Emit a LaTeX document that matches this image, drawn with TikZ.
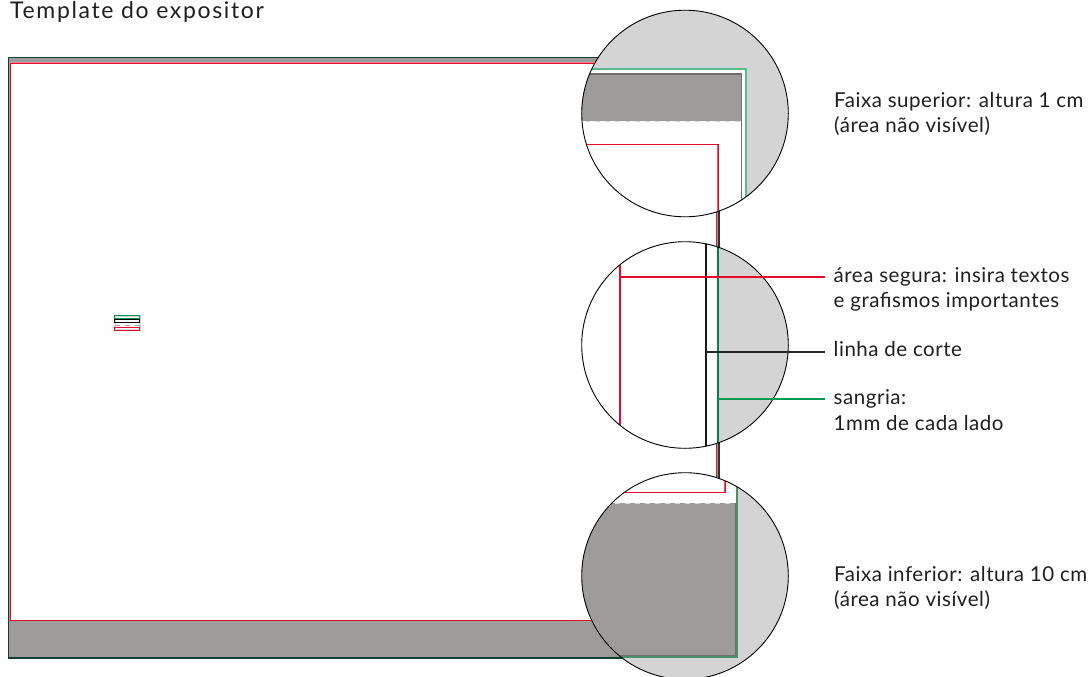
\documentclass[tikz,border=0pt]{standalone}
\usepackage{fontspec}
\setmainfont{Lato}[LetterSpace=2.6]
\definecolor{bandgray}{HTML}{9D9C9B}
\definecolor{lightgray2}{HTML}{D4D4D4}
\definecolor{mygreen}{HTML}{009A4E}
\definecolor{softgreen}{HTML}{5DB98A}
\definecolor{darkgreen}{HTML}{12402F}
\definecolor{myred}{HTML}{E30A2C}
\definecolor{softred}{HTML}{F0506A}
\definecolor{edgegray}{HTML}{6E6E6D}
\tikzset{
  x=1pt,y=-1pt,
  lab/.style={anchor=base west,inner sep=0pt,font=\fontsize{20.5}{25.5}\selectfont,text=black!88,align=left},
  lens/.style={draw=black,line width=0.9pt},
  dashedge/.style={draw=white!85!black,line width=1pt,dash pattern=on 5pt off 5pt}
}
\begin{document}
\begin{tikzpicture}
\useasboundingbox (0,0) rectangle (1092,677);
% title
\node[lab,font=\addfontfeature{LetterSpace=7.2}\fontsize{23}{28}\selectfont] (title) at (10,18.5) {Template do expositor};
% main frame
\fill[bandgray] (8.5,58) rectangle (718.5,657.5);
\fill[white] (9.5,63) rectangle (716.5,621);
\draw[softgreen,line width=0.8pt] (8,57) rectangle (719.5,658.5);
\draw[darkgreen,line width=1.1pt] (8.5,57.7) rectangle (719,658);
\draw[softred!70!white,line width=1.6pt] (10.5,63.2) rectangle (716.6,620.5);
\draw[myred,line width=0.7pt] (10.5,63.2) rectangle (716.6,620.5);
% small icon
\fill[lightgray2] (114.5,315) rectangle (140.5,330.5);
\fill[white] (115.5,316.5) rectangle (139,329);
\draw[mygreen,line width=1.1pt] (114.8,315.3) rectangle (139.6,318.7);
\draw[black,line width=1.1pt] (114.8,319.5) rectangle (139.6,322.5);
\draw[dashedge,draw=bandgray] (114.8,325) -- (139.6,325);
\draw[myred,line width=1.1pt] (114.8,327.2) rectangle (139.6,330.2);
% top lens
\begin{scope}
\clip (685,113.5) circle (103.3);
\fill[white] (575,5) rectangle (795,225);
\fill[lightgray2] (575,5) rectangle (795,69);
\fill[lightgray2] (746,5) rectangle (795,225);
\fill[bandgray] (575,74) rectangle (741.5,121);
\draw[dashedge] (575,121.3) -- (741.5,121.3);
\draw[softgreen,line width=1.6pt] (575,69.3) -- (746,69.3) -- (746,225);
\draw[edgegray,line width=1.3pt] (575,74) -- (741.5,74) -- (741.5,225);
\draw[softred,line width=1.4pt] (575,144.5) -- (718,144.5) -- (718,225);
\draw[myred,line width=0.5pt] (575,144.5) -- (718,144.5) -- (718,225);
\end{scope}
\node[lens,circle,minimum size=206.6pt,inner sep=0pt] (toplens) at (685,113.5) {};
% middle lens
\begin{scope}
\clip (685,345) circle (103.3);
\fill[white] (575,235) rectangle (795,455);
\fill[lightgray2] (718,235) rectangle (795,455);
\draw[myred,line width=2.8pt] (620,235) -- (620,455);
\draw[black!90,line width=2.8pt] (706,235) -- (706,455);
\draw[mygreen!85!black,line width=2.8pt] (718,235) -- (718,455);
\end{scope}
\node[lens,circle,minimum size=206.6pt,inner sep=0pt] (midlens) at (685,345) {};
% bottom lens
\begin{scope}
\clip (685,576) circle (103.3);
\fill[white] (575,465) rectangle (795,685);
\fill[lightgray2] (737,465) rectangle (795,685);
\fill[lightgray2] (575,657) rectangle (795,685);
\fill[bandgray] (575,503) rectangle (735.7,655.7);
\draw[dashedge] (575,503) -- (735.7,503);
\draw[softred,line width=1.4pt] (575,492.7) -- (725,492.7) -- (725,465);
\draw[myred,line width=0.5pt] (575,492.7) -- (725,492.7) -- (725,465);
\draw[mygreen!60!black!70!white,line width=1.6pt] (737,465) -- (737,657) -- (575,657);
\draw[edgegray,line width=1pt] (735.7,503) -- (735.7,655.7) -- (575,655.7);
\end{scope}
\node[lens,circle,minimum size=206.6pt,inner sep=0pt] (botlens) at (685,576) {};
% labels
\node[lab] (sup) at (834,132.7) {Faixa superior: altura 1 cm\\(área não visível)};
\node[lab] (seg) at (833.5,307.7) {área segura: insira textos\\e grafismos importantes};
\node[lab] (cor) at (833.5,356.7) {linha de corte};
\node[lab] (san) at (833.5,430) {sangria:\\1mm de cada lado};
\node[lab] (inf) at (834,606.7) {Faixa inferior: altura 10 cm\\(área não visível)};
% leaders
\coordinate (redstart) at (620,277);
\coordinate (blackstart) at (706,352);
\coordinate (greenstart) at (718,399);
\coordinate (redend) at (825,277);
\coordinate (blackend) at (825,352);
\coordinate (greenend) at (825,399);
\draw[color=myred,line width=1.2pt] (redstart) -- (redend);
\draw[color=black!85,line width=1.2pt] (blackstart) -- (blackend);
\draw[color=mygreen,line width=1.2pt] (greenstart) -- (greenend);
\end{tikzpicture}
\end{document}
